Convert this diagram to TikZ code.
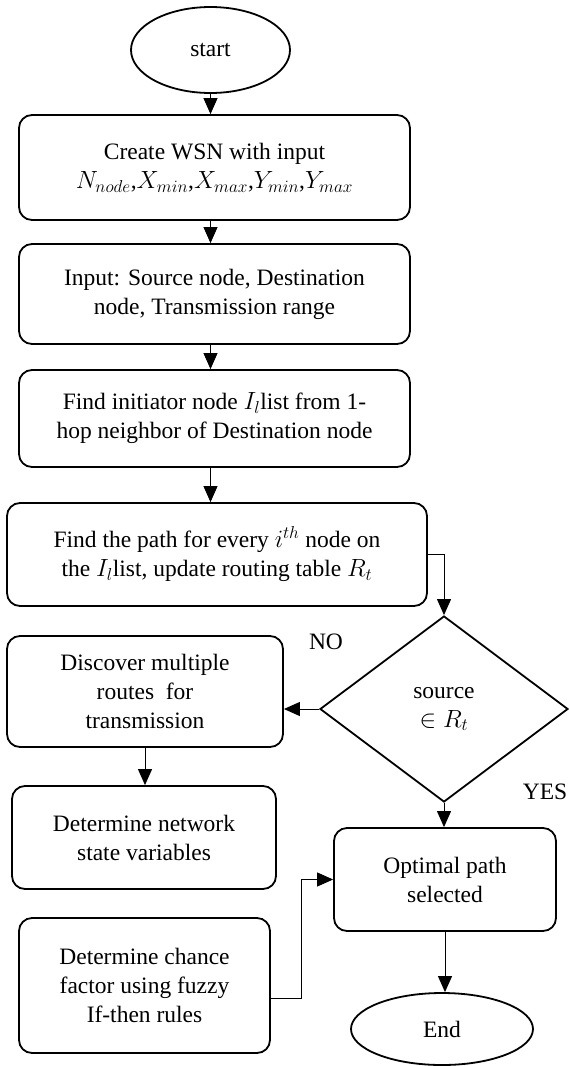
\documentclass[tikz,border=0pt]{standalone}
\usepackage{fontspec}
\setmainfont{Liberation Serif}
\usetikzlibrary{shapes.geometric,arrows.meta,calc}
\begin{document}
\begin{tikzpicture}[x=1pt,y=-1pt,
  every node/.style={font=\fontsize{23.5}{29}\selectfont},
  proc/.style={draw,line width=1.8pt,rounded corners=13pt,align=center,inner sep=0pt},
  term/.style={draw,line width=1.8pt,ellipse,inner sep=0pt,align=center},
  decis/.style={draw,line width=1.8pt,diamond,inner sep=0pt,align=center},
  arr/.style={line width=0.9pt,-{Triangle[length=16pt,width=14pt]}},
  conn/.style={line width=0.9pt}]
\useasboundingbox (0,0) rectangle (570,1066);
\node[term,minimum width=159pt,minimum height=86pt] (start) at (210.5,50) {start};
\node[proc,minimum width=391pt,minimum height=105pt] (b1) at (214.5,167.5) {Create WSN with input\\$N_{node}$,$X_{min}$,$X_{max}$,$Y_{min}$,$Y_{max}$};
\node[proc,minimum width=391pt,minimum height=100pt] (b2) at (214.5,294) {Input: Source node, Destination\\node, Transmission range};
\node[proc,minimum width=391pt,minimum height=97pt] (b3) at (214.5,418.5) {Find initiator node $I_l$list from 1-\\hop neighbor of Destination node};
\node[proc,minimum width=420pt,minimum height=103pt] (b4) at (217,554.5) {Find the path for every $i^{th}$ node on\\the $I_l$list, update routing table $R_t$};
\node[decis,minimum width=248pt,minimum height=186pt] (dec) at (444,709) {source\\$\in R_t$};
\node[proc,minimum width=276pt,minimum height=111pt] (b5) at (145,691.5) {Discover multiple\\routes\ \ for\\transmission};
\node[proc,minimum width=264pt,minimum height=103pt] (b6) at (144,837.5) {Determine network\\state variables};
\node[proc,minimum width=222pt,minimum height=103pt] (b7) at (445,879.5) {Optimal path\\selected};
\node[proc,minimum width=251pt,minimum height=135pt] (b8) at (144.5,985.5) {Determine chance\\factor using fuzzy\\If-then rules};
\node[term,minimum width=182pt,minimum height=72pt] (end) at (442,1029) {End};
\node (no) at (326,642) {NO};
\node (yes) at (545,792) {YES};
\coordinate (bend) at (301,998);
\draw[arr] (start.south) -- (start.south |- b1.north);
\draw[arr] (start.south |- b1.south) -- (start.south |- b2.north);
\draw[arr] (start.south |- b2.south) -- (start.south |- b3.north);
\draw[arr] (start.south |- b3.south) -- (start.south |- b4.north);
\draw[arr] (b4.east) -| (dec.north);
\draw[arr] (dec.west) -- (dec.west -| b5.east);
\draw[arr] (b5.south) -- (b5.south |- b6.north);
\draw[arr] (dec.south) -- (dec.south |- b7.north);
\draw[arr] (bend -| b8.east) -- (bend) |- (b7.west);
\draw[arr] (b7.south) -- (b7.south |- end.north);
\end{tikzpicture}
\end{document}
